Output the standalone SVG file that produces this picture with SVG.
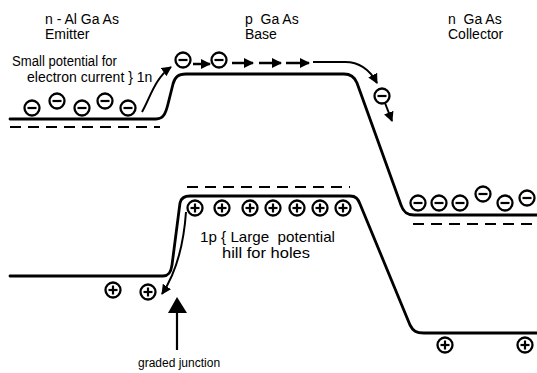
<svg xmlns="http://www.w3.org/2000/svg" width="537" height="373" viewBox="0 0 537 373">
<style>
.band{fill:none;stroke:#000;stroke-width:2.8;stroke-linecap:round;stroke-linejoin:round}
.dash{fill:none;stroke:#000;stroke-width:2.2;stroke-dasharray:11,7}
.path{fill:none;stroke:#000;stroke-width:2}
.sa{fill:none;stroke:#000;stroke-width:2.5}
.c{fill:#fff;stroke:#000;stroke-width:2.3}
.s{stroke:#000;stroke-width:2.2}
text{font-family:"Liberation Sans",Arial,sans-serif;font-size:14px;fill:#000;white-space:pre}
.big{font-size:15px}
</style>
<defs>
<marker id="ah" viewBox="0 0 10 10" refX="9" refY="5" markerWidth="5" markerHeight="5" orient="auto" markerUnits="strokeWidth">
<path d="M0,0 L10,5 L0,10 z" fill="#000"/>
</marker>
<marker id="ah2" viewBox="0 0 10 10" refX="9" refY="5" markerWidth="4" markerHeight="4" orient="auto" markerUnits="strokeWidth">
<path d="M0,0 L10,5 L0,10 z" fill="#000"/>
</marker>
<g id="el"><circle class="c" r="7.5"/><line class="s" x1="-4.5" y1="0" x2="4.5" y2="0"/></g>
<g id="ho"><circle class="c" r="7.5"/><line class="s" x1="-4.5" y1="0" x2="4.5" y2="0"/><line class="s" x1="0" y1="-4.5" x2="0" y2="4.5"/></g>
</defs>

<g id="labels">
<text x="45" y="24">n - Al Ga As</text>
<text x="45" y="39">Emitter</text>
<text x="245" y="24">p  Ga As</text>
<text x="245" y="39">Base</text>
<text x="448" y="24">n  Ga As</text>
<text x="448" y="39">Collector</text>
<text x="12" y="66" textLength="105" lengthAdjust="spacingAndGlyphs">Small potential for</text>
<text x="27" y="82">electron current } 1n</text>
<text class="big" x="200" y="242" textLength="135" lengthAdjust="spacingAndGlyphs">1p { Large  potential</text>
<text class="big" x="222" y="258" textLength="88" lengthAdjust="spacingAndGlyphs">hill for holes</text>
<text x="138" y="367" style="font-size:12px">graded junction</text>
</g>

<g id="bands">
<path id="conduction-band" class="band" d="M10,119 L156,119 C164,119 166,112 168,104 L173,84 C175,77 178,74 186,74 L344,74 C351,74 355,78 357,83 L401,205 C403,211 406,215 414,215 L537,215"/>
<path id="valence-band" class="band" d="M10,276 L163,276 C169,276 171,272 172,265 L180,203 C181,198 184,196 190,196 L350,196 C356,196 358,199 360,204 L410,325 C413,331 416,333 424,333 L537,333"/>
<line class="dash" x1="10" y1="127" x2="160" y2="127"/>
<line class="dash" x1="187" y1="187" x2="350" y2="187"/>
<line class="dash" x1="413" y1="224" x2="537" y2="224"/>
</g>

<g id="connectors">
<path class="path" d="M142,112 C150,98 155,78 171,67" marker-end="url(#ah)"/>
<path class="sa" d="M193,64 L210,64" marker-end="url(#ah2)"/>
<path class="sa" d="M232,63 L253,63" marker-end="url(#ah2)"/>
<path class="sa" d="M259,63 L281,63" marker-end="url(#ah2)"/>
<path class="sa" d="M286,63 L309,63" marker-end="url(#ah2)"/>
<path class="path" d="M313,62 L345,62 C360,62 370,70 377,83" marker-end="url(#ah)"/>
<path class="path" d="M385,103 L392,121" marker-end="url(#ah)"/>
<path class="path" d="M186,212 C184,240 178,270 162,294" marker-end="url(#ah)"/>
<line class="s" x1="177" y1="350" x2="177" y2="310"/>
<polygon points="177,297 168,313 187,313" fill="#000"/>
</g>

<g id="emitter-electrons">
<use href="#el" x="32" y="108"/>
<use href="#el" x="57" y="101"/>
<use href="#el" x="82" y="108"/>
<use href="#el" x="105" y="101"/>
<use href="#el" x="128" y="108"/>
</g>
<g id="base-electrons">
<use href="#el" x="183" y="60"/>
<use href="#el" x="219" y="60"/>
<use href="#el" x="382" y="96"/>
</g>
<g id="collector-electrons">
<use href="#el" x="418" y="203"/>
<use href="#el" x="439" y="203"/>
<use href="#el" x="460" y="203"/>
<use href="#el" x="483" y="194"/>
<use href="#el" x="505" y="203"/>
<use href="#el" x="527" y="198"/>
</g>
<g id="base-holes">
<use href="#ho" x="195" y="208"/>
<use href="#ho" x="222" y="208"/>
<use href="#ho" x="250" y="208"/>
<use href="#ho" x="273" y="208"/>
<use href="#ho" x="297" y="208"/>
<use href="#ho" x="320" y="208"/>
<use href="#ho" x="343" y="208"/>
</g>
<g id="emitter-holes">
<use href="#ho" x="113" y="290"/>
<use href="#ho" x="148" y="292"/>
</g>
<g id="collector-holes">
<use href="#ho" x="445" y="345"/>
<use href="#ho" x="525" y="345"/>
</g>
</svg>
